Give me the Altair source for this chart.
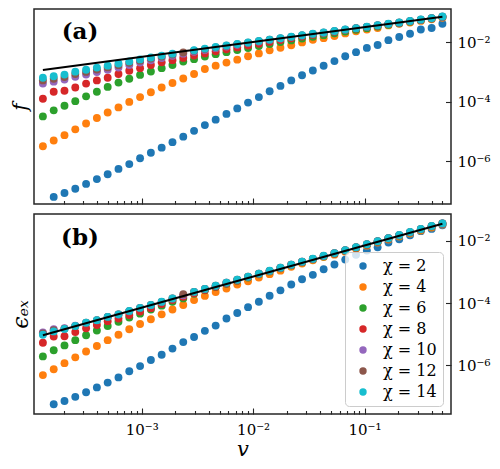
import altair as alt
import pandas as pd

# ---------------- data ----------------
V = [1.298e-4, 1.623e-4, 2.028e-4, 2.535e-4, 3.169e-4, 3.961e-4, 4.952e-4, 6.190e-4,
     7.737e-4, 9.671e-4, 1.209e-3, 1.511e-3, 1.889e-3, 2.361e-3, 2.951e-3, 3.689e-3,
     4.612e-3, 5.765e-3, 7.206e-3, 9.007e-3, 1.126e-2, 1.407e-2, 1.759e-2, 2.199e-2,
     2.749e-2, 3.436e-2, 4.295e-2, 5.369e-2, 6.711e-2, 8.389e-2, 0.1049, 0.1311,
     0.1638, 0.2048, 0.256, 0.32, 0.4, 0.5]

CHI = [2, 4, 6, 8, 10, 12, 14]
COLORS = ["#1f77b4", "#ff7f0e", "#2ca02c", "#d62728", "#9467bd", "#8c564b", "#17becf"]

# panel (a): log10 f
F2 = [None, -7.190, -7.060, -6.917, -6.755, -6.593, -6.431, -6.249, -6.087, -5.892, -5.707,
      -5.536, -5.351, -5.166, -4.971, -4.777, -4.595, -4.400, -4.215, -4.021, -3.836, -3.641,
      -3.460, -3.275, -3.103, -2.941, -2.782, -2.626, -2.464, -2.324, -2.182, -2.084, -1.922,
      -1.815, -1.708, -1.565, -1.514, -1.371]
F4 = [-5.490, -5.296, -5.114, -4.919, -4.725, -4.540, -4.355, -4.183, -3.998, -3.836, -3.674,
      -3.512, -3.362, -3.210, -3.057, -2.892, -2.778, -2.675, -2.577, -2.464, -2.367, -2.263,
      -2.178, -2.091, -1.997, -1.906, -1.854, -1.783, -1.695, -1.620, -1.565, -1.514, -1.426,
      -1.371, -1.329, -1.274, -1.222, -1.166]
F6 = [-4.485, -4.280, -4.125, -3.972, -3.810, -3.654, -3.492, -3.349, -3.220, -3.090, -2.973,
      -2.863, -2.756, -2.642, -2.561, -2.470, -2.392, -2.324, -2.256, -2.188, -2.117, -2.049,
      -1.987, -1.929, -1.864, -1.809, -1.753, -1.692, -1.633, -1.575, -1.517, -1.462, -1.406,
      -1.355, -1.300, -1.248, -1.196, -1.140]
F8 = [-3.891, -3.654, -3.622, -3.512, -3.382, -3.275, -3.187, -3.057, -2.950, -2.863, -2.756,
      -2.668, -2.594, -2.519, -2.441, -2.367, -2.298, -2.230, -2.165, -2.104, -2.042, -1.981,
      -1.919, -1.860, -1.802, -1.744, -1.692, -1.637, -1.582, -1.530, -1.481, -1.429, -1.380,
      -1.335, -1.286, -1.238, -1.189, -1.137]
F10 = [-3.382, -3.317, -3.242, -3.155, -3.080, -2.993, -2.918, -2.843, -2.756, -2.675, -2.600,
       -2.522, -2.448, -2.376, -2.311, -2.250, -2.191, -2.133, -2.075, -2.019, -1.968, -1.916,
       -1.864, -1.815, -1.766, -1.718, -1.672, -1.620, -1.572, -1.523, -1.475, -1.426, -1.377,
       -1.332, -1.283, -1.234, -1.186, -1.134]
F12 = [-3.275, -3.220, -3.158, -3.057, -2.989, -2.908, -2.837, -2.762, -2.684, -2.610, -2.542,
       -2.470, -2.402, -2.337, -2.279, -2.221, -2.165, -2.110, -2.055, -2.007, -1.958, -1.909,
       -1.860, -1.812, -1.763, -1.715, -1.669, -1.620, -1.572, -1.523, -1.475, -1.426, -1.377,
       -1.332, -1.283, -1.234, -1.186, -1.134]
F14 = [-3.187, -3.135, -3.080, -2.980, -2.918, -2.843, -2.778, -2.707, -2.636, -2.568, -2.506,
       -2.441, -2.376, None, -2.260, -2.204, -2.152, -2.101, -2.049, -2.000, -1.951, -1.903,
       -1.854, -1.805, -1.757, -1.708, -1.663, -1.614, -1.565, -1.517, -1.468, -1.419, -1.371,
       -1.325, -1.277, -1.228, -1.179, -1.128]

# panel (b): log10 eps_ex
E2 = [None, -7.247, -7.144, -7.010, -6.863, -6.707, -6.551, -6.386, -6.187, -6.022, -5.825,
      -5.657, -5.460, -5.252, -5.086, -4.890, -4.722, -4.494, -4.316, -4.129, -3.955, -3.762,
      -3.590, -3.403, -3.232, -3.091, -2.911, -2.758, -2.602, -2.446, -2.312, -2.209, -2.053,
      -1.947, -1.823, -1.689, -1.617, -1.502]
E4 = [-6.311, -6.124, -5.928, -5.741, -5.554, -5.376, -5.189, -5.015, -4.837, -4.672, -4.516,
      -4.360, -4.204, -4.058, -3.902, -3.768, -3.643, -3.528, -3.403, -3.300, -3.176, -3.070,
      -2.957, -2.833, -2.727, -2.624, -2.521, -2.443, -2.346, -2.250, -2.153, -2.056, -1.960,
      -1.863, -1.763, -1.667, -1.570, -1.474]
E6 = [-5.710, -5.513, -5.358, -5.189, -5.033, -4.878, -4.734, -4.597, -4.463, -4.338, -4.204,
      -4.080, -3.955, -3.849, -3.699, -3.590, -3.484, -3.378, -3.278, -3.179, -3.076, -2.982,
      -2.883, -2.786, -2.686, -2.593, -2.499, -2.409, -2.315, -2.219, -2.122, -2.025, -1.926,
      -1.826, -1.729, -1.632, -1.536, -1.452]
E8 = [-5.273, -5.071, -5.065, -4.930, -4.806, -4.703, -4.578, -4.494, -4.385, -4.267, -4.161,
      -4.027, -3.902, -3.793, -3.684, -3.578, -3.472, -3.369, -3.272, -3.160, -3.060, -2.970,
      -2.870, -2.773, -2.677, -2.583, -2.490, -2.402, -2.309, -2.212, -2.116, -2.019, -1.922,
      -1.823, -1.726, -1.629, -1.533, -1.449]
E10 = [-4.940, -4.837, -4.806, -4.728, -4.634, -4.553, -4.447, -4.366, -4.260, -4.157, -4.064,
       -3.961, -3.855, -3.750, -3.642, -3.548, -3.445, -3.346, -3.252, -3.156, -3.056, -2.965,
       -2.866, -2.769, -2.672, -2.579, -2.485, -2.398, -2.305, -2.208, -2.111, -2.015, -1.918,
       -1.818, -1.722, -1.625, -1.528, -1.444]
E12 = [-4.977, -4.868, -4.821, -4.737, -4.631, -4.550, -4.444, -4.363, -4.257, -4.154, -4.061,
       -3.958, -3.852, -3.715, -3.640, -3.546, -3.443, -3.344, -3.250, -3.154, -3.054, -2.963,
       -2.864, -2.767, -2.670, -2.577, -2.483, -2.396, -2.303, -2.206, -2.109, -2.013, -1.916,
       -1.816, -1.720, -1.623, -1.526, -1.442]
E14 = [-5.015, -4.909, -4.828, -4.734, -4.628, -4.547, -4.441, -4.360, -4.254, -4.151, -4.058,
       -3.955, -3.849, None, -3.637, -3.543, -3.440, -3.341, -3.247, -3.151, -3.051, -2.960,
       -2.861, -2.764, -2.667, -2.574, -2.480, -2.393, -2.300, -2.203, -2.106, -2.010, -1.913,
       -1.813, -1.717, -1.620, -1.523, -1.439]

# reference power laws (black lines), end points
LINE_V = [1.298e-4, 0.5]
LINE_F = [1.19e-3, 7.35e-2]
LINE_E = [9.27e-6, 3.56e-2]

X_DOMAIN = [1.08e-4, 0.597]
YA_DOMAIN = [3.72e-8, 0.1337]
YB_DOMAIN = [2.75e-8, 0.0729]
X_MAJOR = [1e-3, 1e-2, 1e-1]
X_MINOR = [2e-4, 3e-4, 4e-4, 5e-4, 6e-4, 7e-4, 8e-4, 9e-4,
           2e-3, 3e-3, 4e-3, 5e-3, 6e-3, 7e-3, 8e-3, 9e-3,
           2e-2, 3e-2, 4e-2, 5e-2, 6e-2, 7e-2, 8e-2, 9e-2,
           2e-1, 3e-1, 4e-1, 5e-1]
Y_MAJOR = [1e-6, 1e-4, 1e-2]
LETTERS = ["(a)", "(b)"]

LABELS = [f"χ = {c}" for c in CHI]
SERIF = "DejaVu Serif"
FRAME = "#262626"
PLOT_W = 417


def series_df(lists):
    rows = []
    for chi, lg in zip(CHI, lists):
        for v, l in zip(V, lg):
            if l is not None:
                rows.append({"v": v, "val": 10 ** l, "chi": f"χ = {chi}"})
    return pd.DataFrame(rows)


df_a = series_df([F2, F4, F6, F8, F10, F12, F14])
df_b = series_df([E2, E4, E6, E8, E10, E12, E14])
line_a = pd.DataFrame({"v": LINE_V, "val": LINE_F})
line_b = pd.DataFrame({"v": LINE_V, "val": LINE_E})

Y_LABEL_EXPR = "datum.value < 1e-5 ? '10⁻⁶' : (datum.value < 1e-3 ? '10⁻⁴' : '10⁻²')"
X_LABEL_EXPR = "datum.value < 5e-3 ? '10⁻³' : (datum.value < 5e-2 ? '10⁻²' : '10⁻¹')"


def tick_axis(orient, values, size):
    return alt.Axis(orient=orient, values=values, labels=False, domain=False, grid=False,
                    ticks=True, tickSize=size, offset=-size, tickColor=FRAME, tickWidth=1.1,
                    title=None)


def panel(df, line_df, ydom, ytitle, ytitle_size, ytitle_pad, letter, letter_y,
          height, show_x, show_legend):
    xs = alt.Scale(type="log", domain=X_DOMAIN, nice=False)
    ys = alt.Scale(type="log", domain=ydom, nice=False)
    if show_x:
        x_axis = alt.Axis(orient="bottom", values=X_MAJOR, labelExpr=X_LABEL_EXPR, ticks=False,
                          domain=False, grid=False, labelFont=SERIF, labelFontSize=15,
                          labelColor="black", labelPadding=8, title="v", titleFont=SERIF,
                          titleFontSize=21, titleFontStyle="italic", titleFontWeight="normal",
                          titleColor="black", titleY=24)
    else:
        x_axis = None
    y_axis = alt.Axis(orient="right", values=Y_MAJOR, labelExpr=Y_LABEL_EXPR, ticks=False,
                      domain=False, grid=False, labelFont=SERIF, labelFontSize=15,
                      labelColor="black", labelPadding=6, title=None)
    if show_legend:
        legend = alt.Legend(orient="bottom-right", offset=8, title=None,
                            fillColor="rgba(255,255,255,0.8)", strokeColor="#cccccc",
                            cornerRadius=4, padding=6, labelFont=SERIF, labelFontSize=16,
                            labelColor="black", symbolType="circle", symbolSize=55,
                            symbolStrokeWidth=0, symbolOpacity=1, rowPadding=5,
                            symbolOffset=4, labelOffset=12)
    else:
        legend = None
    pts = alt.Chart(df).mark_circle(size=62, opacity=1).encode(
        x=alt.X("v:Q", scale=xs, axis=x_axis),
        y=alt.Y("val:Q", scale=ys, axis=y_axis),
        color=alt.Color("chi:N", scale=alt.Scale(domain=LABELS, range=COLORS), legend=legend),
    )
    line = alt.Chart(line_df).mark_line(color="black", strokeWidth=2).encode(
        x=alt.X("v:Q", scale=xs, axis=tick_axis("bottom", X_MAJOR, 6)),
        y=alt.Y("val:Q", scale=ys, axis=tick_axis("right", Y_MAJOR, 5.5)),
    )
    dummy = alt.Chart(line_df).mark_line(opacity=0).encode(
        x=alt.X("v:Q", scale=xs, axis=tick_axis("bottom", X_MINOR, 3.5)),
        y=alt.Y("val:Q", scale=ys,
                axis=alt.Axis(orient="left", labels=False, ticks=False, domain=False,
                              grid=False, title=ytitle, titleFont=SERIF,
                              titleFontSize=ytitle_size, titleFontStyle="italic",
                              titleFontWeight="normal", titleColor="black",
                              titlePadding=ytitle_pad)),
    )
    txt = alt.Chart(pd.DataFrame({"t": [letter]})).mark_text(
        font=SERIF, fontWeight="bold", fontSize=23, align="center", baseline="alphabetic",
        color="black"
    ).encode(x=alt.value(46), y=alt.value(letter_y), text="t:N")
    return alt.layer(pts, line, dummy, txt).resolve_axis(x="independent", y="independent") \
        .properties(width=PLOT_W, height=height)


pa = panel(df_a, line_a, YA_DOMAIN, "f", 20, 4, LETTERS[0], 30, 195, False, False)
pb = panel(df_b, line_b, YB_DOMAIN, "ϵₑₓ", 22, 2, LETTERS[1], 31, 200, True, True)

chart = alt.vconcat(pa, pb, spacing=7).resolve_legend(color="independent").properties(
    padding={"left": 0, "top": 0, "right": 1, "bottom": 0}
).configure_view(stroke=FRAME, strokeWidth=1.5)

chart.save("out.html", embed_options={"renderer": "svg", "actions": False})
